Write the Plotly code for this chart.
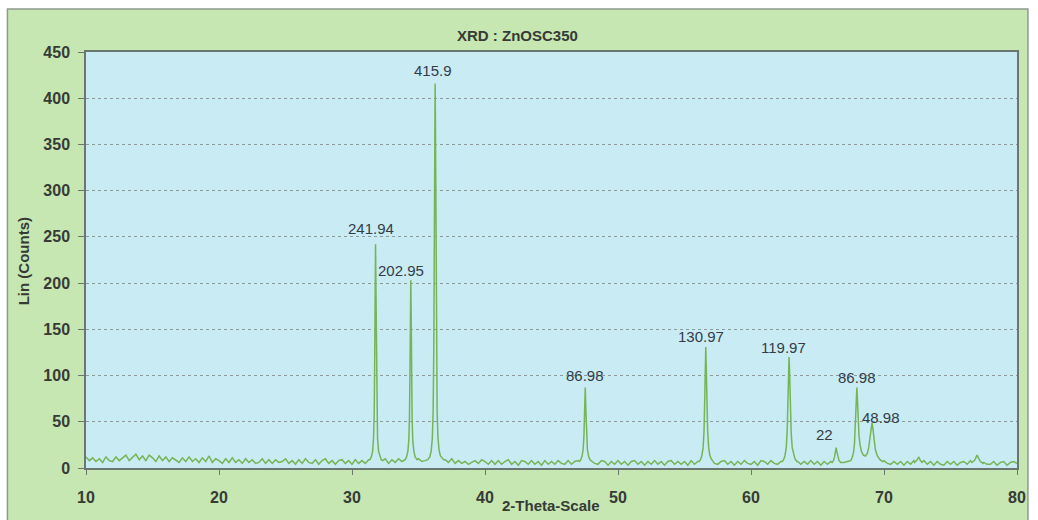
import numpy as np
import plotly.graph_objects as go

# ---------------- data ----------------
# background scan, sampled every 0.25 deg from 10 to 80 (4 values per degree)
base_start, base_step = 10.0, 0.25
base_counts = [
    12, 8, 11, 7,    10, 6, 12, 8,    7, 12, 8, 11,    14, 8, 12, 15,
    9, 13, 8, 14,    11, 7, 13, 8,    12, 7, 11, 8,    6, 11, 7, 12,
    7, 10, 6, 11,    7, 13, 6, 10,    8, 5, 10, 6,     11, 6, 9, 5,
    10, 6, 9, 5,     6, 10, 5, 9,     5, 9, 6, 7,      10, 5, 8, 4,
    9, 5, 10, 6,     5, 9, 4, 8,      10, 5, 8, 4,     8, 9, 5, 8,
    4, 9, 5, 8,      5, 9, 6, 10,     9, 6, 10, 5,     9, 6, 10, 7,
    6, 10, 7, 11,    10, 7, 8, 10,    7, 11, 8, 9,     9, 6, 10, 5,
    8, 5, 7, 4,      6, 8, 5, 9,      7, 4, 8, 4,      8, 4, 7, 9,
    4, 7, 3, 8,      7, 4, 8, 4,      7, 3, 8, 4,      7, 4, 8, 5,
    4, 8, 4, 7,      8, 5, 9, 6,      8, 5, 4, 8,      7, 3, 7, 4,
    8, 4, 7, 3,      7, 8, 4, 7,      3, 7, 4, 8,      4, 7, 3, 7,
    8, 4, 7, 4,      7, 3, 8, 4,      7, 8, 8, 9,      8, 5, 4, 7,
    8, 4, 7, 3,      7, 4, 8, 5,      4, 7, 3, 8,      7, 4, 8, 5,
    4, 7, 8, 8,      8, 7, 7, 4,      7, 4, 8, 4,      7, 3, 7, 4,
    7, 8, 7, 6,      6, 7, 8, 10,     9, 8, 8, 9,      9, 8, 7, 6,
    8, 5, 4, 7,      4, 7, 3, 7,      4, 8, 8, 7,      8, 4, 7, 3,
    7, 4, 3, 7,      4, 7, 3, 6,      7, 4, 8, 6,      8, 7, 6, 4,
    4, 7, 3, 6,      7, 3, 6, 7,      5,
]

# diffraction peaks: (2-theta points, counts) read around each reflection
peak_31_theta = [31.35, 31.45, 31.55, 31.62, 31.67, 31.71, 31.74, 31.77, 31.80, 31.83, 31.87, 31.92, 32.00, 32.10, 32.20, 32.30]
peak_31_count = [9, 12, 18, 32, 60, 120, 200, 241.94, 195, 120, 62, 32, 18, 12, 9, 8]

peak_34_theta = [34.00, 34.10, 34.20, 34.27, 34.32, 34.36, 34.39, 34.42, 34.45, 34.48, 34.52, 34.57, 34.65, 34.75, 34.90]
peak_34_count = [9, 12, 18, 30, 55, 105, 170, 202.95, 165, 100, 52, 30, 18, 12, 9]

peak_36_theta = [35.70, 35.85, 35.95, 36.04, 36.10, 36.15, 36.19, 36.22, 36.25, 36.28, 36.31, 36.35, 36.40, 36.46, 36.55, 36.65, 36.80, 36.90]
peak_36_count = [9, 12, 18, 32, 60, 130, 260, 370, 415.9, 360, 250, 130, 62, 33, 19, 13, 10, 9]

peak_47_theta = [47.10, 47.20, 47.30, 47.38, 47.44, 47.49, 47.54, 47.59, 47.64, 47.70, 47.80, 47.90, 48.05]
peak_47_count = [7, 9, 13, 20, 35, 62, 86.98, 60, 34, 20, 12, 9, 7]

peak_56_theta = [56.10, 56.20, 56.30, 56.40, 56.47, 56.53, 56.57, 56.60, 56.63, 56.68, 56.74, 56.82, 56.90, 57.00, 57.15]
peak_56_count = [7, 9, 13, 22, 40, 80, 115, 130.97, 112, 75, 40, 22, 14, 10, 7]

peak_62_theta = [62.35, 62.45, 62.55, 62.65, 62.72, 62.78, 62.83, 62.86, 62.90, 62.95, 63.02, 63.10, 63.20, 63.30, 63.45]
peak_62_count = [7, 9, 13, 22, 40, 75, 108, 119.97, 105, 70, 38, 22, 14, 10, 7]

peak_66_theta = [66.10, 66.20, 66.28, 66.35, 66.40, 66.45, 66.52, 66.62, 66.75]
peak_66_count = [6, 8, 12, 18, 22, 18, 12, 8, 6]

peak_68_theta = [67.50, 67.60, 67.70, 67.78, 67.85, 67.91, 67.96, 68.00, 68.05, 68.12, 68.20, 68.30, 68.45,
                 68.60, 68.75, 68.85, 68.95, 69.03, 69.10, 69.17, 69.25, 69.35, 69.50, 69.70, 69.90]
peak_68_count = [8, 11, 16, 26, 45, 70, 86.98, 75, 55, 35, 25, 18, 14,
                 13, 16, 22, 33, 44, 48.98, 42, 30, 20, 13, 9, 7]

peak_72_theta = [72.30, 72.45, 72.55, 72.62, 72.70, 72.85]
peak_72_count = [6, 8, 11, 12, 9, 6]

peak_77_theta = [76.60, 76.80, 76.90, 77.00, 77.10, 77.25, 77.45]
peak_77_count = [6, 8, 11, 14, 11, 7, 5]

# labelled peaks: position, printed label
label_theta = [31.77, 34.42, 36.25, 47.54, 56.60, 62.86, 66.40, 67.96, 69.10]
label_count = [241.94, 202.95, 415.9, 86.98, 130.97, 119.97, 22, 86.98, 48.98]
label_text = ["241.94", "202.95", "415.9", "86.98", "130.97", "119.97", "22", "86.98", "48.98"]

x_ticks = [10, 20, 30, 40, 50, 60, 70, 80]
y_ticks = [0, 50, 100, 150, 200, 250, 300, 350, 400, 450]

# ---------------- assemble the scan ----------------
peaks = [
    (peak_31_theta, peak_31_count), (peak_34_theta, peak_34_count), (peak_36_theta, peak_36_count),
    (peak_47_theta, peak_47_count), (peak_56_theta, peak_56_count), (peak_62_theta, peak_62_count),
    (peak_66_theta, peak_66_count), (peak_68_theta, peak_68_count), (peak_72_theta, peak_72_count),
    (peak_77_theta, peak_77_count),
]
base_theta = base_start + base_step * np.arange(len(base_counts))
base_counts_arr = np.array(base_counts, dtype=float)
keep = np.ones(len(base_theta), dtype=bool)
for th, _ in peaks:
    keep &= ~((base_theta >= min(th)) & (base_theta <= max(th)))
xs = list(base_theta[keep])
ys = list(base_counts_arr[keep])
for th, ct in peaks:
    xs += th
    ys += ct
order = np.argsort(xs)
xs = np.array(xs)[order]
ys = np.array(ys)[order]

# ---------------- figure ----------------
W, H = 1038, 520
L, R, T, B = 86, 16, 52, 52
pw, ph = W - L - R, H - T - B

def px(xp):
    return (xp - L) / pw

def py(yp):
    return (H - B - yp) / ph

GREEN = "#c6e6b2"
BLUE = "#c8ebf4"
TXT = "#363b36"
FONT = "Liberation Sans, Arial"

fig = go.Figure()
fig.add_trace(go.Scatter(x=xs, y=ys, mode="lines",
                         line=dict(color="#76b455", width=1.5),
                         hoverinfo="skip", showlegend=False))

# label offsets in pixels relative to the peak top
xshift = [-5, -10, -2, 0, -5, -6, -12, 0, 9]
yshift = [16, 10, 13, 12, 10, 10, 13, 10, 5]
for xv, yv, t, dx, dy in zip(label_theta, label_count, label_text, xshift, yshift):
    fig.add_annotation(x=xv, y=yv, xref="x", yref="y", text=t, showarrow=False,
                       xshift=dx, yshift=dy, xanchor="center", yanchor="middle",
                       font=dict(family=FONT, size=15, color="#343c4a"))

# outer frame and plot area background
fig.add_shape(type="rect", xref="paper", yref="paper", layer="below",
              x0=px(7), x1=px(1033), y0=py(540), y1=py(9),
              fillcolor=GREEN, line=dict(color="#8e9a8e", width=1.5))
fig.add_shape(type="rect", xref="paper", yref="paper", layer="below",
              x0=0, x1=1, y0=0, y1=1, fillcolor=BLUE, line=dict(width=0))

fig.add_annotation(xref="paper", yref="paper", x=px(520), y=py(35), text="XRD : ZnOSC350",
                   xanchor="center", yanchor="middle", showarrow=False,
                   font=dict(family=FONT, size=15, color=TXT, weight="bold"))
fig.add_annotation(xref="paper", yref="paper", x=px(553), y=py(506), text="2-Theta-Scale",
                   xanchor="center", yanchor="middle", showarrow=False,
                   font=dict(family=FONT, size=15, color=TXT, weight="bold"))
fig.add_annotation(xref="paper", yref="paper", x=px(23), y=py(261), text="Lin (Counts)", textangle=-90,
                   xanchor="center", yanchor="middle", showarrow=False,
                   font=dict(family=FONT, size=15, color=TXT, weight="bold"))

axis_font = dict(family=FONT, size=16, color=TXT, weight="bold")
fig.update_xaxes(range=[10, 80], tickvals=x_ticks, ticktext=[str(v) for v in x_ticks],
                 showgrid=False, zeroline=False, showline=True, linecolor="#6c7670", linewidth=1.5,
                 mirror=True, ticks="outside", ticklen=5, tickcolor="#6c7670",
                 tickfont=axis_font, ticklabelstandoff=9)
fig.update_yaxes(range=[0, 450], tickvals=y_ticks, ticktext=[str(v) for v in y_ticks],
                 showgrid=True, gridcolor="#8c9a9c", griddash="3px,3px", gridwidth=1,
                 zeroline=False, showline=True, linecolor="#6c7670", linewidth=1.5,
                 mirror=True, ticks="outside", ticklen=6, tickcolor="#6c7670",
                 tickfont=axis_font, ticklabelstandoff=5)

fig.update_layout(width=W, height=H, margin=dict(l=L, r=R, t=T, b=B),
                  paper_bgcolor="white", plot_bgcolor="rgba(0,0,0,0)", showlegend=False)

fig.write_html("out.html")
